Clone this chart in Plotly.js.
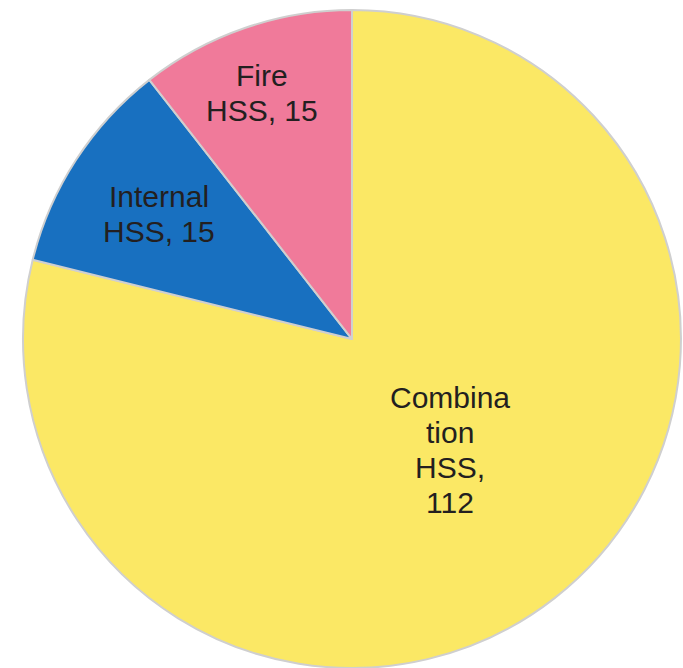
<!DOCTYPE html>
<html>
<head>
<meta charset="utf-8">
<script src="https://cdn.plot.ly/plotly-3.0.1.min.js"></script>
<style>html,body{margin:0;padding:0;background:#fff;overflow:hidden}#chart{width:683px;height:668px}</style>
</head>
<body>
<div id="chart"></div>
<script>
const categories = ["Combination HSS", "Internal HSS", "Fire HSS"];
const values = [112, 15, 15];
const labelTexts = ["Combina<br>tion<br>HSS,<br>112", "Internal<br>HSS, 15", "Fire<br>HSS, 15"];
const colors = ["#FBE865", "#1870C0", "#F07A9A"];

// label anchor positions (paper fractions) and line spacing in px
const labelX = [0.659, 0.233, 0.384];
const labelY = [0.326, 0.680, 0.861];
const lineGap = 35;

const trace = {
  type: "pie",
  labels: categories,
  values: values,
  textinfo: "none",
  sort: false,
  direction: "clockwise",
  rotation: 0,
  hoverinfo: "label+value",
  marker: {colors: colors, line: {color: "#cfcfcf", width: 2}},
  domain: {x: [0.0337, 0.997], y: [0, 0.985]}
};

const annotations = [];
labelTexts.forEach((t, i) => {
  const lines = t.split("<br>");
  const n = lines.length;
  lines.forEach((ln, j) => {
    annotations.push({
      xref: "paper", yref: "paper",
      x: labelX[i], y: labelY[i],
      xanchor: "center", yanchor: "middle",
      yshift: ((n - 1) / 2 - j) * lineGap,
      text: ln, showarrow: false,
      font: {family: "Liberation Sans, Arial, sans-serif", size: 30, color: "#231f20"}
    });
  });
});

Plotly.newPlot("chart", [trace], {
  width: 683, height: 668,
  margin: {l: 0, r: 0, t: 0, b: 0},
  showlegend: false,
  paper_bgcolor: "#ffffff",
  annotations: annotations
}, {displayModeBar: false, staticPlot: true});
</script>
</body>
</html>
